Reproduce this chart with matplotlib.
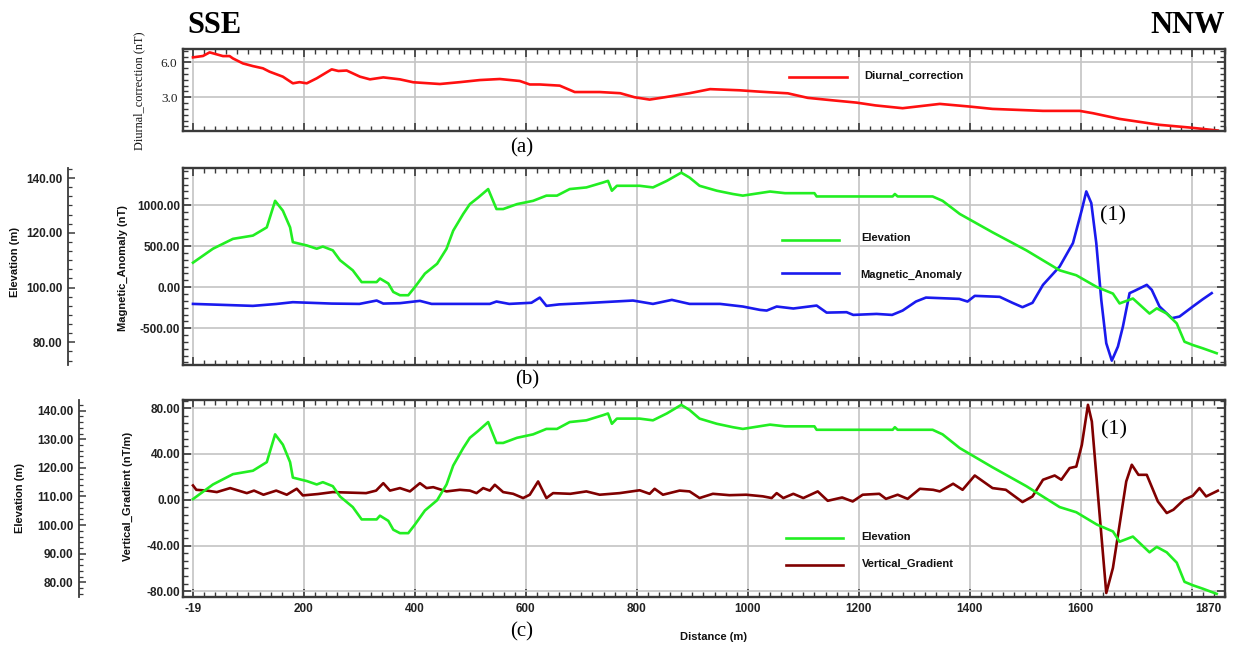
import matplotlib
matplotlib.use("Agg")
import matplotlib.pyplot as plt
from matplotlib.ticker import MultipleLocator, AutoMinorLocator, FixedLocator, FormatStrFormatter
from matplotlib.lines import Line2D

# ---------------- profile data (distance along line, m) ----------------
diurnal_dist = [0, 18, 30, 42, 54, 66, 72, 90, 108, 126, 138, 162, 180, 192, 205, 223, 238, 250,
                262, 277, 301, 319, 343, 373, 397, 445, 481, 517, 553, 589, 607, 625, 661, 688,
                733, 770, 796, 823, 850, 895, 932, 985, 1022, 1072, 1108, 1150, 1196, 1230, 1279,
                1346, 1400, 1441, 1532, 1598, 1622, 1670, 1742, 1796, 1847]
diurnal_nt = [6.43, 6.55, 6.86, 6.7, 6.54, 6.54, 6.34, 5.91, 5.68, 5.49, 5.2, 4.77, 4.2, 4.3, 4.2,
              4.63, 5.06, 5.4, 5.26, 5.3, 4.77, 4.54, 4.71, 4.54, 4.29, 4.14, 4.3, 4.48, 4.57, 4.4,
              4.1, 4.1, 4.0, 3.45, 3.45, 3.35, 3.0, 2.8, 3.0, 3.35, 3.7, 3.6, 3.48, 3.34, 2.95,
              2.75, 2.54, 2.3, 2.06, 2.43, 2.2, 2.0, 1.83, 1.83, 1.63, 1.14, 0.63, 0.4, 0.14]

elev_dist = [0, 36, 72, 108, 133, 148, 162, 175, 180, 205, 223, 234, 252, 265, 288, 304, 331, 337,
             352, 361, 373, 388, 400, 418, 440, 457, 469, 487, 499, 514, 532, 547, 559, 584, 613,
             637, 656, 679, 709, 739, 748, 755, 764, 805, 829, 854, 880, 895, 913, 944, 973, 991,
             1040, 1067, 1120, 1124, 1261, 1265, 1270, 1333, 1351, 1382, 1441, 1502, 1562, 1592,
             1629, 1658, 1670, 1694, 1724, 1737, 1755, 1773, 1787, 1802, 1820, 1845]
elev_m = [109.1, 114.2, 117.8, 119.0, 122.0, 131.7, 128.1, 122.0, 116.6, 115.4, 114.2, 115.0, 113.6,
          110.0, 106.3, 102.0, 102.0, 103.3, 101.5, 98.4, 97.2, 97.2, 100.2, 105.1, 108.7, 114.2,
          120.8, 126.9, 130.5, 132.9, 136.0, 128.7, 128.7, 130.5, 131.7, 133.6, 133.6, 136.0,
          136.6, 138.4, 139.0, 135.4, 137.2, 137.2, 136.6, 139.0, 142.0, 140.2, 137.2, 135.4,
          134.2, 133.6, 135.1, 134.5, 134.5, 133.3, 133.3, 134.2, 133.3, 133.3, 131.7, 126.9,
          120.2, 113.6, 106.3, 104.5, 100.2, 97.8, 94.2, 96.0, 90.5, 92.4, 90.5, 86.9, 80.2, 79.0,
          77.8, 76.0]

mag_dist = [0, 50, 108, 150, 180, 250, 300, 331, 343, 373, 409, 430, 535, 547, 570, 610, 625, 637,
            660, 703, 793, 829, 863, 895, 950, 991, 1022, 1034, 1052, 1082, 1124, 1142, 1178, 1190,
            1232, 1260, 1279, 1303, 1321, 1381, 1396, 1409, 1454, 1477, 1495, 1513, 1532, 1562,
            1586, 1602, 1610, 1619, 1628, 1637, 1646, 1656, 1667, 1676, 1688, 1697, 1719, 1728,
            1742, 1764, 1778, 1802, 1820, 1836]
mag_nt = [-204, -215, -228, -205, -183, -200, -204, -163, -200, -195, -167, -204, -204, -175, -204,
          -190, -127, -228, -210, -196, -163, -204, -155, -204, -204, -236, -277, -285, -236, -260,
          -224, -310, -305, -338, -326, -338, -285, -175, -127, -143, -175, -106, -118, -191, -244,
          -191, 28, 251, 537, 943, 1166, 1024, 537, -155, -683, -895, -724, -480, -73, -45, 28, -33,
          -236, -378, -358, -236, -147, -73]

vg_dist = [0, 6, 25, 43, 67, 97, 110, 127, 150, 169, 187, 198, 225, 252, 312, 330, 343, 355, 373,
           391, 409, 421, 433, 457, 481, 499, 511, 523, 535, 544, 559, 577, 595, 607, 622, 637, 649,
           680, 709, 733, 769, 805, 823, 832, 847, 877, 895, 913, 937, 967, 997, 1027, 1043, 1052,
           1064, 1082, 1100, 1126, 1144, 1170, 1189, 1207, 1237, 1249, 1270, 1288, 1310, 1334, 1346,
           1370, 1387, 1409, 1441, 1465, 1495, 1513, 1532, 1553, 1565, 1580, 1592, 1602, 1613, 1620,
           1631, 1646, 1658, 1670, 1682, 1692, 1704, 1719, 1739, 1755, 1767, 1786, 1802, 1814, 1826,
           1847]
vg_ntm = [12.5, 8.7, 8.0, 6.7, 10.2, 5.8, 8.0, 4.4, 8.0, 4.4, 9.6, 3.8, 5.0, 6.7, 5.8, 8.0, 14.5,
          8.0, 10.2, 7.3, 14.5, 10.2, 11.0, 7.3, 8.7, 8.0, 5.8, 10.2, 8.0, 13.1, 6.7, 5.2, 1.5, 4.4,
          16.0, 1.5, 5.8, 5.2, 7.3, 4.4, 5.8, 8.3, 5.2, 9.6, 4.4, 8.0, 7.3, 1.5, 5.2, 4.0, 4.4, 3.0,
          1.5, 5.8, 1.5, 5.2, 1.5, 7.3, -0.9, 2.0, -1.5, 4.4, 5.2, 0.8, 4.4, 0.8, 9.6, 8.7, 7.3, 14.0,
          8.7, 21.2, 10.2, 8.7, -2.0, 2.9, 17.5, 21.2, 17.5, 27.7, 29.0, 48.0, 83.0, 68.4, 4.4, -81.5,
          -59.6, -21.8, 16.0, 30.6, 21.8, 21.8, -1.5, -11.6, -8.7, 0.0, 3.5, 10.2, 2.9, 7.9]

x_tick_pos = [0, 200, 400, 600, 800, 1000, 1200, 1400, 1600, 1800]
x_tick_labels = ["-19", "200", "400", "600", "800", "1000", "1200", "1400", "1600", ""]
x_end_label = "1870"

# ---------------- figure layout ----------------
W, H = 1234, 649
fig = plt.figure(figsize=(W / 100, H / 100), dpi=100)

SANS = "Liberation Sans"
SERIF = "Liberation Serif"
SPINE = "#3a3a3a"
GRID = "#c4c4c4"
GREEN = "#22ee22"
RED = "#ff1010"
BLUE = "#1a1aee"
MAROON = "#800000"
LW = 1.9

def fx(x):
    return x / W

def fy(y):
    return 1 - y / H

LEFT, RIGHT = 183, 1225

def make_axes(top, bottom):
    return fig.add_axes([fx(LEFT), fy(bottom), (RIGHT - LEFT) / W, (bottom - top) / H])

ax_a = make_axes(49, 131)
ax_b = make_axes(168, 365)
ax_c = make_axes(400, 597)


def elevation_axis(ax, spine_x, ylim, major, nminor):
    e = ax.twinx()
    e.set_ylim(*ylim)
    for k in ("right", "top", "bottom"):
        e.spines[k].set_visible(False)
    e.spines["left"].set_visible(True)
    e.spines["left"].set_position(("axes", (spine_x - LEFT) / (RIGHT - LEFT)))
    e.spines["left"].set_color(SPINE)
    e.spines["left"].set_linewidth(1.3)
    e.yaxis.set_ticks_position("left")
    e.yaxis.set_major_locator(MultipleLocator(major))
    e.yaxis.set_minor_locator(AutoMinorLocator(nminor))
    e.yaxis.set_major_formatter(FormatStrFormatter("%.2f"))
    e.tick_params(which="both", direction="in", colors=SPINE, labelcolor="#222222", pad=4)
    e.tick_params(which="major", length=5, width=1.1)
    e.tick_params(which="minor", length=3, width=0.9)
    for t in e.get_yticklabels():
        t.set_fontfamily(SANS)
        t.set_fontweight("bold")
        t.set_fontsize(8.5)
    return e


def style_main(ax, ylim, yticks, fmt, tickfont, weight, size, ypad):
    ax.set_xlim(-18, 1860)
    ax.set_ylim(*ylim)
    ax.xaxis.set_major_locator(FixedLocator(x_tick_pos))
    ax.xaxis.set_minor_locator(MultipleLocator(20))
    ax.yaxis.set_major_locator(FixedLocator(yticks))
    ax.yaxis.set_minor_locator(AutoMinorLocator(6))
    ax.yaxis.set_major_formatter(FormatStrFormatter(fmt))
    ax.grid(True, which="major", color=GRID, lw=1.2)
    ax.set_axisbelow(True)
    ax.tick_params(which="both", direction="in", top=True, right=True, bottom=True, left=True,
                   colors=SPINE, labelcolor="#222222")
    ax.tick_params(axis="y", pad=ypad)
    ax.tick_params(which="major", length=6, width=1.2)
    ax.tick_params(which="minor", length=3.5, width=1.0)
    for s in ax.spines.values():
        s.set_linewidth(1.7)
        s.set_color(SPINE)
    for t in ax.get_yticklabels():
        t.set_fontfamily(tickfont)
        t.set_fontweight(weight)
        t.set_fontsize(size)


# ---------------- (a) diurnal correction ----------------
style_main(ax_a, (0.1, 7.15), [3.0, 6.0], "%.1f", SERIF, "normal", 9.5, 4)
ax_a.tick_params(labelbottom=False)
ax_a.plot(diurnal_dist, diurnal_nt, color=RED, lw=LW)

# ---------------- (b) magnetic anomaly + elevation ----------------
elev_b = elevation_axis(ax_b, 68, (71.7, 143.7), 20, 6)
style_main(ax_b, (-948, 1451), [-500, 0, 500, 1000], "%.2f", SANS, "bold", 8.5, 2)
ax_b.tick_params(labelbottom=False)
ax_b.plot(mag_dist, mag_nt, color=BLUE, lw=LW, zorder=3)
elev_b.plot(elev_dist, elev_m, color=GREEN, lw=LW, zorder=2)

# ---------------- (c) vertical gradient + elevation ----------------
elev_c = elevation_axis(ax_c, 79, (74.9, 143.7), 10, 5)
style_main(ax_c, (-85, 87.2), [-80, -40, 0, 40, 80], "%.2f", SANS, "bold", 8.5, 2)
ax_c.set_xticklabels(x_tick_labels)
ax_c.tick_params(axis="x", pad=4)
for t in ax_c.get_xticklabels():
    t.set_fontfamily(SANS)
    t.set_fontweight("bold")
    t.set_fontsize(8.5)
ax_c.annotate(x_end_label, xy=(1830, 0), xycoords=("data", "axes fraction"),
              xytext=(0, -4), textcoords="offset points", ha="center", va="top",
              fontfamily=SANS, fontweight="bold", fontsize=8.5, color="#222222")
ax_c.plot(vg_dist, vg_ntm, color=MAROON, lw=LW, zorder=3)
elev_c.plot(elev_dist, elev_m, color=GREEN, lw=LW, zorder=2)

# ---------------- legends (drawn in figure space) ----------------
def legend_entry(x0, x1, y_line, x_text, y_text, color, label):
    fig.add_artist(Line2D([fx(x0), fx(x1)], [fy(y_line), fy(y_line)], color=color, lw=LW,
                          transform=fig.transFigure))
    fig.text(fx(x_text), fy(y_text), label, ha="left", va="center", fontfamily=SANS,
             fontweight="bold", fontsize=8, color="#111111")

legend_entry(789, 847, 76.5, 864, 76, RED, "Diurnal_correction")
legend_entry(782, 839, 240, 861, 238, GREEN, "Elevation")
legend_entry(782, 839, 272.5, 860, 275, BLUE, "Magnetic_Anomaly")
legend_entry(786, 843, 538, 861, 537, GREEN, "Elevation")
legend_entry(786, 843, 565, 862, 564, MAROON, "Vertical_Gradient")

# ---------------- axis titles ----------------
def vlabel(x, y, s, family, weight, size):
    fig.text(fx(x), fy(y), s, rotation=90, ha="center", va="center", fontfamily=family,
             fontweight=weight, fontsize=size, color="#111111")

vlabel(139, 91, "Diurnal_correction (nT)", SERIF, "normal", 8.8)
vlabel(123, 268, "Magnetic_Anomaly (nT)", SANS, "bold", 8)
vlabel(15, 262, "Elevation (m)", SANS, "bold", 8)
vlabel(128, 496, "Vertical_Gradient (nT/m)", SANS, "bold", 8)
vlabel(20, 498, "Elevation (m)", SANS, "bold", 8)

fig.text(fx(713), fy(637), "Distance (m)", ha="center", va="center", fontfamily=SANS,
         fontweight="bold", fontsize=8, color="#111111")

# ---------------- annotations ----------------
fig.text(fx(187), fy(33), "SSE", ha="left", va="baseline", fontfamily=SERIF,
         fontweight="bold", fontsize=22)
fig.text(fx(1225), fy(33), "NNW", ha="right", va="baseline", fontfamily=SERIF,
         fontweight="bold", fontsize=22)
for cx, cy, s in [(522, 148, "(a)"), (527, 380, "(b)"), (522, 632, "(c)")]:
    fig.text(fx(cx), fy(cy), s, ha="center", va="center", fontfamily=SERIF, fontsize=15)
for cx, cy in [(1113, 216), (1114, 430)]:
    fig.text(fx(cx), fy(cy), "(1)", ha="center", va="center", fontfamily=SERIF, fontsize=16)

fig.savefig("out.png", dpi=100)
